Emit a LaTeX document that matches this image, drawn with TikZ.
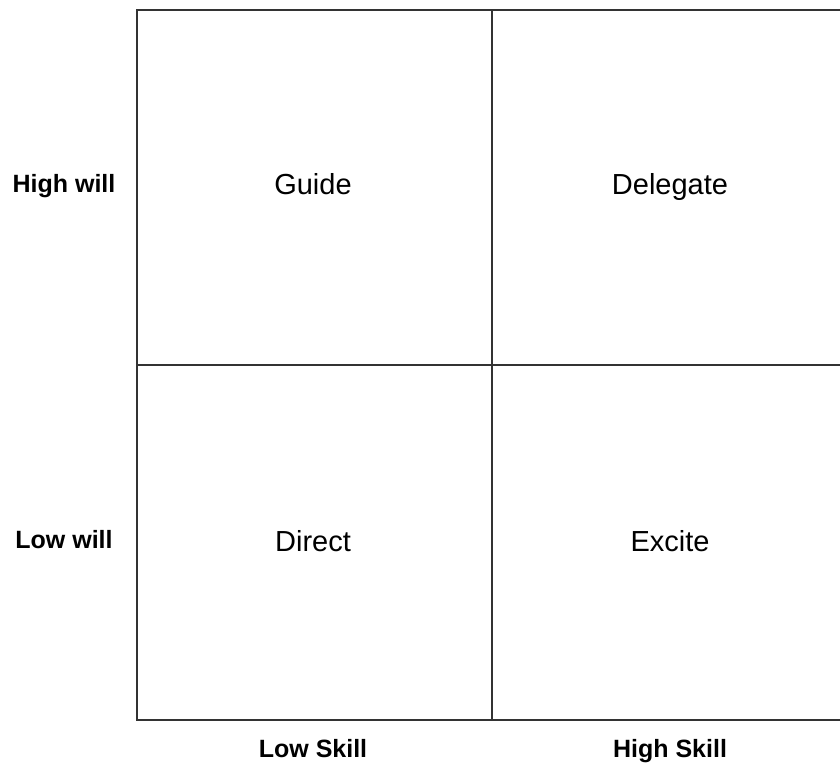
\documentclass[tikz,border=0pt]{standalone}
\usepackage{fontspec}
\setmainfont{Liberation Sans}
\begin{document}
\begin{tikzpicture}[x=0.75pt,y=-0.75pt,
    grid/.style={draw=black!80,line width=1.5pt},
    quad/.style={anchor=base,font=\fontsize{21.75}{26}\selectfont},
    axis/.style={anchor=base,font=\bfseries\fontsize{18.75}{22}\selectfont}]
  \useasboundingbox (0,0) rectangle (840,763);
  % the four fields
  \draw[grid] (840,10) -- (137,10) -- (137,720) -- (840,720);
  \draw[grid] (492,10) -- (492,720);
  \draw[grid] (137,365) -- (840,365);
  \node[quad] (guide) at (313,195) {Guide};
  \node[quad] (delegate) at (670,195) {Delegate};
  \node[quad] (direct) at (313,551) {Direct};
  \node[quad] (excite) at (670,551) {Excite};
  % axis labels
  \node[axis] (highwill) at (64,193) {High will};
  \node[axis] (lowwill) at (64,548) {Low will};
  \node[axis] (lowskill) at (313,757) {Low Skill};
  \node[axis] (highskill) at (670,757) {High Skill};
\end{tikzpicture}
\end{document}
